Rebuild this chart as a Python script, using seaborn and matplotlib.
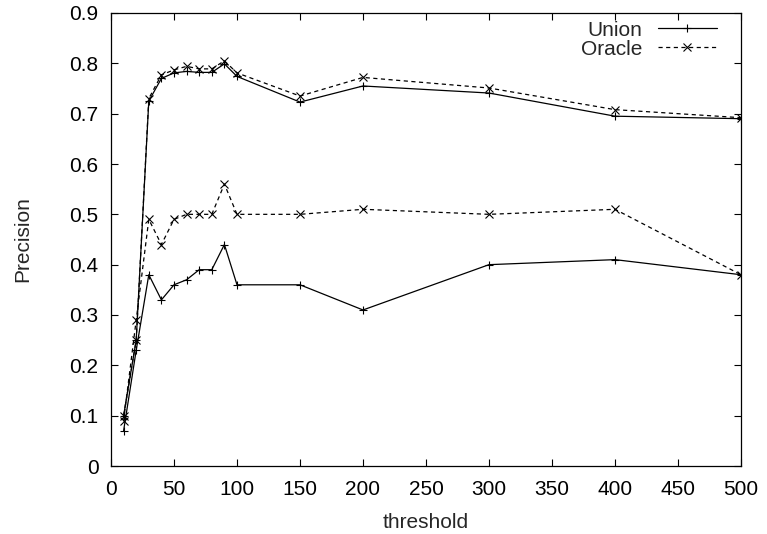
import numpy as np
import pandas as pd
import matplotlib
matplotlib.use("Agg")
import matplotlib.pyplot as plt
import seaborn as sns

# threshold values on the x axis
thresholds = [10, 20, 30, 40, 50, 60, 70, 80, 90, 100, 150, 200, 300, 400, 500]

# two runs per method (upper and lower curves)
union_high = [0.10, 0.25, 0.725, 0.770, 0.781, 0.784, 0.782, 0.782, 0.799, 0.774,
              0.723, 0.755, 0.741, 0.695, 0.690]
oracle_high = [0.10, 0.25, 0.73, 0.777, 0.787, 0.794, 0.789, 0.789, 0.805, 0.781,
               0.735, 0.772, 0.751, 0.708, 0.692]
union_low = [0.07, 0.23, 0.38, 0.33, 0.36, 0.37, 0.39, 0.39, 0.44, 0.36,
             0.36, 0.31, 0.40, 0.41, 0.38]
oracle_low = [0.09, 0.29, 0.49, 0.44, 0.49, 0.50, 0.50, 0.50, 0.56, 0.50,
              0.50, 0.51, 0.50, 0.51, 0.38]

y_ticks = [0, 0.1, 0.2, 0.3, 0.4, 0.5, 0.6, 0.7, 0.8, 0.9]
y_tick_labels = ["0", "0.1", "0.2", "0.3", "0.4", "0.5", "0.6", "0.7", "0.8", "0.9"]
x_ticks = list(range(0, 501, 50))

series = [
    ("Union", "high", union_high),
    ("Oracle", "high", oracle_high),
    ("Union", "low", union_low),
    ("Oracle", "low", oracle_low),
]
df = pd.concat([
    pd.DataFrame({"threshold": thresholds, "precision": vals,
                  "method": name, "run": run})
    for name, run, vals in series
], ignore_index=True)

sns.set_style("ticks")
plt.rcParams["font.family"] = ["Liberation Sans", "DejaVu Sans"]
plt.rcParams["font.size"] = 15
plt.rcParams["lines.scale_dashes"] = False

fig = plt.figure(figsize=(7.67, 5.34), dpi=100)
ax = fig.add_axes([111 / 767, 68 / 534, 630 / 767, 453 / 534])

styles = {
    "Union": dict(marker="+", linestyle="-"),
    "Oracle": dict(marker="x", linestyle=(0, (3, 2.5))),
}
seen = set()
for (name, run), sub in df.groupby(["method", "run"], sort=False):
    lbl = name if name not in seen else None
    seen.add(name)
    sns.lineplot(data=sub, x="threshold", y="precision", ax=ax,
                 color="black", linewidth=0.9, markersize=5.5,
                 markeredgewidth=0.8, markeredgecolor="black",
                 estimator=None, sort=False, label=lbl,
                 **styles[name])

ax.set_xlim(0, 500)
ax.set_ylim(0, 0.9)
ax.set_xticks(x_ticks)
ax.set_xticklabels([str(t) for t in x_ticks])
ax.set_yticks(y_ticks)
ax.set_yticklabels(y_tick_labels)
ax.tick_params(direction="in", top=True, right=True, length=5, width=0.8,
               labelsize=15, colors="black")
ax.tick_params(axis="x", pad=10)
ax.tick_params(axis="y", pad=9)
for sp in ax.spines.values():
    sp.set_linewidth(0.9)
    sp.set_color("black")
    sp.set_visible(True)

ax.set_xlabel("threshold", fontsize=15, labelpad=10)
ax.set_ylabel("Precision", fontsize=15, labelpad=27)

handles, labels = ax.get_legend_handles_labels()
ax.legend(handles, labels, loc="upper right", bbox_to_anchor=(0.962, 0.983),
          frameon=False, markerfirst=False, borderpad=0, borderaxespad=0,
          handlelength=2.85, handletextpad=0.72, labelspacing=0.0,
          fontsize=15, numpoints=1)

fig.savefig("out.png", dpi=100)
